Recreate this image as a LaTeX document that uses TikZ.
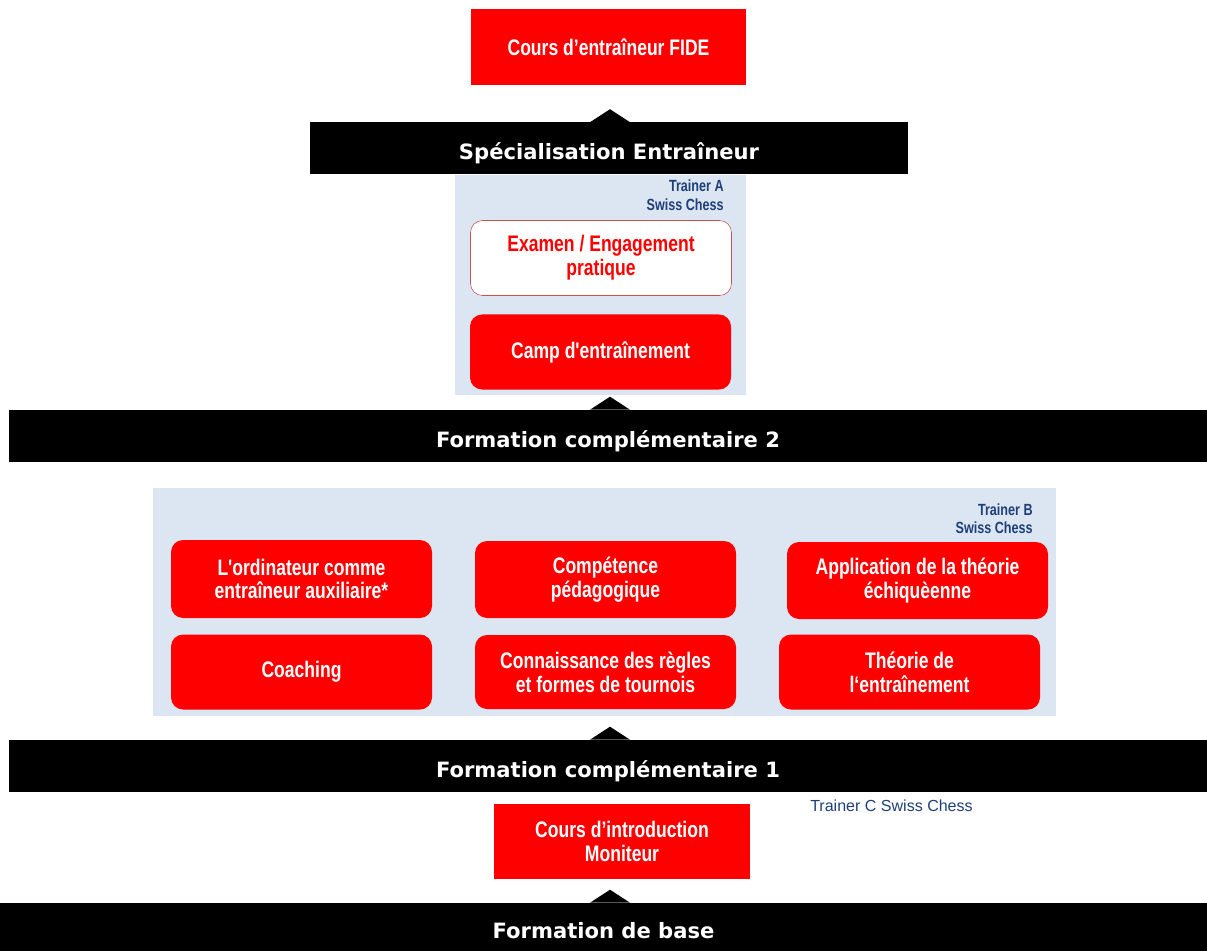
\documentclass[tikz,border=0pt]{standalone}
\usepackage{fontspec}
\setmainfont{Liberation Sans}
\newfontfamily\narrowfont[FakeStretch=0.78]{Liberation Sans}
\newfontfamily\barfont{DejaVu Sans}
\usetikzlibrary{positioning}
\definecolor{swissred}{HTML}{FF0000}
\definecolor{panelblue}{HTML}{DCE6F2}
\definecolor{trainerblue}{HTML}{1F3F78}
\definecolor{examline}{HTML}{C8504D}
\newlength{\pxu}
\setlength{\pxu}{0.025cm}

\begin{document}
\begin{tikzpicture}[
      x=\pxu, y=-\pxu,
      levelbar/.style={
         rectangle,
         fill=black,
         text=white,
         inner sep=0pt,
         minimum height=52\pxu,
         text height=16pt,
         text depth=0pt,
         font=\barfont\bfseries\fontsize{15}{18}\selectfont},
      modbox/.style={
         rectangle,
         rounded corners=12\pxu,
         fill=swissred,
         text=white,
         inner sep=0pt,
         minimum width=261\pxu,
         minimum height=76\pxu,
         align=center,
         font=\narrowfont\bfseries\fontsize{16}{17}\selectfont},
      coursebox/.style={
         modbox,
         sharp corners},
      exambox/.style={
         modbox,
         fill=white,
         draw=examline,
         text=swissred},
      panel/.style={
         rectangle,
         fill=panelblue,
         inner sep=0pt},
      trainertext/.style={
         text=trainerblue,
         align=right,
         inner sep=0pt,
         font=\narrowfont\bfseries\fontsize{11.5}{13.5}\selectfont},
      myhead/.style={fill=black},
      ]
      \useasboundingbox (0,0) rectangle (1207,951);
      % panels
      \node[panel, minimum width=291\pxu, minimum height=220\pxu] (panelA) at (600.5,285) {};
      \node[panel, minimum width=903\pxu, minimum height=228\pxu] (panelB) at (604.5,602) {};
      % top
      \node[coursebox, minimum width=275\pxu] (fide) at (608.5,47) {Cours d’entraîneur FIDE};
      \node[levelbar, minimum width=598\pxu] (spec) at (609,148.5) {Spécialisation Entraîneur};
      \node[trainertext, anchor=north east] (trainerA) at (724,180) {Trainer A\\Swiss Chess};
      \node[exambox, minimum height=75\pxu] (examen) at (601,258) {Examen / Engagement\\pratique};
      \node[modbox, minimum height=75\pxu] (camp) at (600.5,352) {Camp d'entraînement};
      \node[levelbar, minimum width=1198\pxu] (fc2) at (608,436) {Formation complémentaire 2};
      % trainer B
      \node[trainertext, anchor=north east] (trainerB) at (1033,503) {Trainer B\\Swiss Chess};
      \node[modbox, minimum height=78\pxu] (ordi) at (301.5,579) {L'ordinateur comme\\entraîneur auxiliaire*};
      \node[modbox, minimum height=77\pxu] (comp) at (605.5,579.5) {Compétence\\pédagogique};
      \node[modbox, minimum height=77\pxu] (appl) at (917.5,580.5) {Application de la théorie\\échiquèenne};
      \node[modbox, minimum height=75\pxu] (coach) at (301.5,672) {Coaching};
      \node[modbox, minimum height=74\pxu] (conn) at (605.5,672) {Connaissance des règles\\et formes de tournois};
      \node[modbox, minimum height=75\pxu] (theo) at (909.5,672) {Théorie de\\l‘entraînement};
      \node[levelbar, minimum width=1198\pxu] (fc1) at (608,766) {Formation complémentaire 1};
      % base
      \node[trainertext, anchor=west, font=\fontsize{11.4}{13}\selectfont] (trainerC) at (810,806) {Trainer C Swiss Chess};
      \node[coursebox, minimum width=256\pxu, minimum height=75\pxu] (intro) at (622,841) {Cours d’introduction\\Moniteur};
      \node[levelbar, minimum width=1207\pxu, minimum height=48\pxu] (base) at (603.5,927) {Formation de base};
    \foreach \b in {spec,fc2,fc1,base}
       \fill[myhead] (\b.north -| 610,0) ++(-20,0) -- ++(40,0) -- ++(-20,-13) -- cycle;
\end{tikzpicture}
\end{document}
